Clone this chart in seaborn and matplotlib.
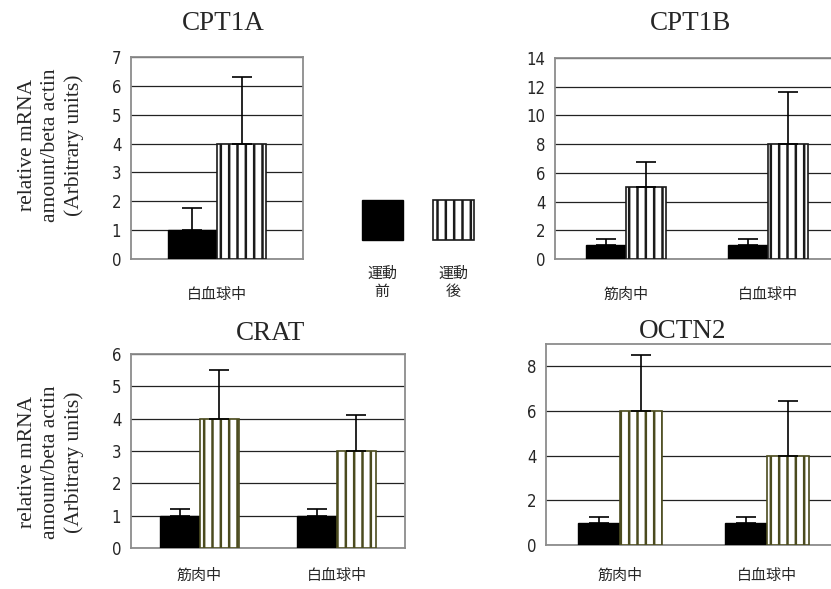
import numpy as np
import pandas as pd
import matplotlib
matplotlib.use("Agg")
import matplotlib.pyplot as plt
from matplotlib.patches import Rectangle
import seaborn as sns

# ---- data -------------------------------------------------------------
phases = ["運動前", "運動後"]

cpt1a_sites = ["白血球中"]
cpt1a_pre = [1.0]
cpt1a_post = [4.0]
cpt1a_pre_err = [0.76]
cpt1a_post_err = [2.3]

cpt1b_sites = ["筋肉中", "白血球中"]
cpt1b_pre = [1.0, 1.0]
cpt1b_post = [5.0, 8.0]
cpt1b_pre_err = [0.4, 0.4]
cpt1b_post_err = [1.75, 3.6]

crat_sites = ["筋肉中", "白血球中"]
crat_pre = [1.0, 1.0]
crat_post = [4.0, 3.0]
crat_pre_err = [0.2, 0.2]
crat_post_err = [1.5, 1.1]

octn2_sites = ["筋肉中", "白血球中"]
octn2_pre = [1.0, 1.0]
octn2_post = [6.0, 4.0]
octn2_pre_err = [0.25, 0.25]
octn2_post_err = [2.5, 2.45]

ylabel_text = "relative mRNA\namount/beta actin\n(Arbitrary units)"

# ---- style ------------------------------------------------------------
sns.set_style("white")
plt.rcParams["font.family"] = ["Noto Sans CJK JP", "DejaVu Sans"]
plt.rcParams["hatch.linewidth"] = 1.8

W, H = 831, 589
fig = plt.figure(figsize=(W / 100, H / 100), dpi=100)


def fx(px):
    return px / W


def fy(py):
    return 1 - py / H


TICK_FONT = dict(family=["Liberation Sans Narrow", "DejaVu Sans"],
                 stretch="condensed", size=12)
CAT_FONT = dict(family=["Noto Sans CJK JP", "DejaVu Sans"], size=10.8)
SERIF = ["Liberation Serif", "DejaVu Serif"]


def panel(rect, sites, pre, post, pre_err, post_err, ytop, ystep, stripe, pad):
    ax = fig.add_axes(rect)
    df = pd.DataFrame({
        "site": sites * 2,
        "phase": [phases[0]] * len(sites) + [phases[1]] * len(sites),
        "value": pre + post,
        "err": pre_err + post_err,
    })
    sns.barplot(data=df, x="site", y="value", hue="phase", order=sites,
                hue_order=phases, palette=["black", "white"], saturation=1,
                width=0.57, errorbar=None, legend=False, ax=ax,
                edgecolor="black", linewidth=1.0, zorder=3)
    errs = {}
    for i, s in enumerate(sites):
        errs[(i, 0)] = pre_err[i]
        errs[(i, 1)] = post_err[i]
    for p in ax.patches:
        cx = p.get_x() + p.get_width() / 2
        site_i = int(round(cx))
        is_post = cx > site_i
        if is_post:
            p.set_hatch("||")
            p.set_edgecolor(stripe)
            p.set_linewidth(1.2)
        e = errs[(site_i, 1 if is_post else 0)]
        ax.errorbar([cx], [p.get_height()], yerr=[[0], [e]], fmt="none",
                    ecolor="black", elinewidth=1.2, capsize=7, capthick=1.2,
                    zorder=4)
    ax.set_xlim(-0.5, len(sites) - 0.5)
    ax.set_ylim(0, ytop)
    ax.set_yticks(np.arange(0, ytop + 1e-9, ystep))
    ax.set_yticklabels([f"{int(v)}" for v in ax.get_yticks()], **TICK_FONT)
    ax.set_xticks(range(len(sites)))
    ax.set_xticklabels(sites, **CAT_FONT)
    ax.set_xlabel("")
    ax.set_ylabel("")
    ax.set_axisbelow(True)
    ax.yaxis.grid(True, color="#222222", linewidth=0.9)
    ax.xaxis.grid(False)
    for sp in ax.spines.values():
        sp.set_visible(True)
        sp.set_color("#8c8c8c")
        sp.set_linewidth(1.3)
    ax.tick_params(axis="y", length=3, width=1, color="#8c8c8c", pad=4)
    ax.tick_params(axis="x", length=0, pad=pad)
    return ax


# top row
panel([fx(131), fy(259), fx(172), (259 - 57) / H], cpt1a_sites, cpt1a_pre,
      cpt1a_post, cpt1a_pre_err, cpt1a_post_err, 7, 1, "#1a1a1a", 21)
panel([fx(555), fy(259), fx(284), (259 - 58) / H], cpt1b_sites, cpt1b_pre,
      cpt1b_post, cpt1b_pre_err, cpt1b_post_err, 14, 2, "#1a1a1a", 21)
# bottom row
panel([fx(131), fy(548), fx(274), (548 - 354) / H], crat_sites, crat_pre,
      crat_post, crat_pre_err, crat_post_err, 6, 1, "#4b4b1e", 15)
panel([fx(546), fy(545), fx(295), (545 - 344) / H], octn2_sites, octn2_pre,
      octn2_post, octn2_pre_err, octn2_post_err, 9, 2, "#4b4b1e", 17)

# panel titles
for name, x, y in [("CPT1A", 223, 24), ("CPT1B", 691, 24),
                   ("CRAT", 271, 333), ("OCTN2", 683, 332)]:
    fig.text(fx(x), fy(y), name, family=SERIF, size=19.5,
             ha="center", va="center")

# y-axis labels
for y in (145, 462):
    fig.text(fx(51), fy(y), ylabel_text, family=SERIF, size=15.5,
             rotation=90, ha="center", va="center", multialignment="center",
             linespacing=1.3)

# legend swatches and captions
fig.add_artist(Rectangle((fx(362), fy(240)), fx(41), 40 / H,
                         transform=fig.transFigure, facecolor="black",
                         edgecolor="black", linewidth=1))
fig.add_artist(Rectangle((fx(433), fy(240)), fx(41), 40 / H,
                         transform=fig.transFigure, facecolor="white",
                         edgecolor="#1a1a1a", hatch="||", linewidth=1.2))
for x, lab in [(382, "運動\n前"), (453, "運動\n後")]:
    fig.text(fx(x), fy(283), lab, ha="center", va="center",
             linespacing=1.4, **CAT_FONT)

fig.savefig("out.png", dpi=100)
